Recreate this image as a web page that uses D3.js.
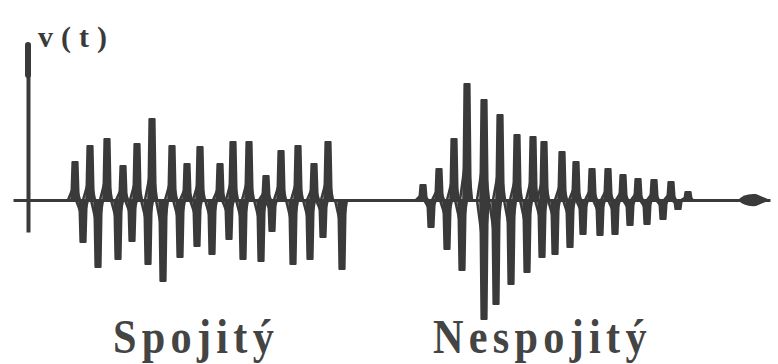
<!DOCTYPE html>
<html>
<head>
<meta charset="utf-8">
<script src="https://cdn.jsdelivr.net/npm/d3@7"></script>
<style>
  body { margin: 0; background: #fff; }
</style>
</head>
<body>
<script>
// spike times (ms) and amplitudes (arbitrary units)
const spojityUpT = [47, 62, 79, 95, 109, 124, 144, 159, 172, 192, 205, 221, 238, 253, 270, 286, 300];
const spojityUpV = [3.8, 5.4, 6.1, 3.4, 5.6, 8.1, 5.4, 3.6, 5.3, 3.6, 5.8, 5.8, 2.4, 4.9, 5.4, 3.6, 5.8];
const spojityDownT = [55, 70, 90, 104, 120, 135, 152, 169, 184, 201, 215, 233, 244, 265, 282, 295, 314];
const spojityDownV = [-4.2, -6.7, -5.9, -4.1, -6.4, -8.1, -5.7, -4.6, -5.4, -3.9, -5.9, -6.1, -3.1, -6.4, -5.9, -3.7, -6.9];

const nespojityUpT = [395, 411, 426, 439, 456, 472, 489, 505, 516, 534, 548, 564, 580, 595, 610, 626, 643, 660];
const nespojityUpV = [1.5, 3.1, 6.1, 11.6, 10.0, 8.5, 6.5, 6.3, 5.8, 4.8, 3.8, 3.1, 3.1, 2.5, 2.1, 2.0, 1.8, 0.8];
const nespojityDownT = [403, 419, 434, 456, 468, 483, 499, 514, 527, 542, 555, 572, 587, 602, 619, 635, 650];
const nespojityDownV = [-2.7, -4.9, -7.0, -11.9, -10.4, -8.4, -7.2, -5.7, -5.4, -4.7, -3.4, -3.5, -3.4, -2.5, -2.4, -1.9, -0.9];

const groupLabels = ['Spojitý', 'Nespojitý'];
const yLabel = 'v(t)';

const W = 778, H = 364;
const ink = '#3a3a3a';

const svg = d3.select('body')
    .append('svg')
    .attr('width', W)
    .attr('height', H);

// scales
const x = d3.scaleLinear().domain([-15, 742]).range([13, 770]);
const y = d3.scaleLinear().domain([-3.2, 15.7]).range([232, 43]);

// axes (no ticks, just the lines)
svg.append('g')
    .attr('transform', `translate(0,${y(0)})`)
    .call(d3.axisBottom(x).tickValues([]).tickSizeOuter(0))
    .select('.domain')
    .attr('stroke', ink)
    .attr('stroke-width', 3);

svg.append('g')
    .attr('transform', `translate(${x(0)},0)`)
    .call(d3.axisLeft(y).tickValues([]).tickSizeOuter(0))
    .select('.domain')
    .attr('stroke', ink)
    .attr('stroke-width', 4);

// thicker top of the v(t) axis
svg.append('line')
    .attr('x1', x(0)).attr('x2', x(0))
    .attr('y1', y(15.5)).attr('y2', y(12.5))
    .attr('stroke', ink)
    .attr('stroke-width', 6)
    .attr('stroke-linecap', 'round');

// arrow head at the end of the time axis
const xe = x.range()[1], y0 = y(0);
svg.append('path')
    .attr('d', `M${xe - 32},${y0} Q${xe - 26},${y0 - 7} ${xe - 14},${y0 - 6} L${xe},${y0} L${xe - 14},${y0 + 6} Q${xe - 26},${y0 + 7} ${xe - 32},${y0} Z`)
    .attr('fill', ink);

// build spike list
const spikes = [];
[[spojityUpT, spojityUpV], [spojityDownT, spojityDownV],
 [nespojityUpT, nespojityUpV], [nespojityDownT, nespojityDownV]].forEach(([ts, vs]) => {
    ts.forEach((t, i) => spikes.push({ t: t, v: vs[i] }));
});

const line = d3.line().x(d => x(d.t)).y(d => y(d.v));

// small ramps around each spike
svg.append('g')
    .selectAll('path')
    .data(spikes)
    .join('path')
    .attr('d', d => line([
        { t: d.t - 7, v: 0 },
        { t: d.t, v: d.v * 0.45 },
        { t: d.t + 5, v: 0 }
    ]))
    .attr('fill', 'none')
    .attr('stroke', ink)
    .attr('stroke-width', 2.5)
    .attr('stroke-linejoin', 'round');

// spikes as tapered bars
svg.append('g')
    .selectAll('path')
    .data(spikes)
    .join('path')
    .attr('d', d => {
        const b = y(0), tip = y(d.v), cx = x(d.t);
        return `M${cx - 3.8},${b} L${cx - 2.6},${tip} L${cx + 2.6},${tip} L${cx + 3.8},${b} Z`;
    })
    .attr('fill', ink)
    .attr('stroke', ink)
    .attr('stroke-width', 2)
    .attr('stroke-linejoin', 'round');

// y label
svg.append('text')
    .attr('x', 38)
    .attr('y', 47)
    .attr('font-family', '"Liberation Serif", serif')
    .attr('font-weight', 'bold')
    .attr('font-size', 30)
    .attr('letter-spacing', 8)
    .attr('fill', ink)
    .text(yLabel);

// group labels under each burst
const labelPos = [113, 433];
groupLabels.forEach((lab, i) => {
    svg.append('text')
        .attr('transform', `translate(${labelPos[i]},353) scale(0.88,1)`)
        .attr('font-family', '"Liberation Serif", serif')
        .attr('font-weight', 'bold')
        .attr('font-size', 48)
        .attr('letter-spacing', 6)
        .attr('fill', '#444')
        .text(lab);
});
</script>
</body>
</html>
